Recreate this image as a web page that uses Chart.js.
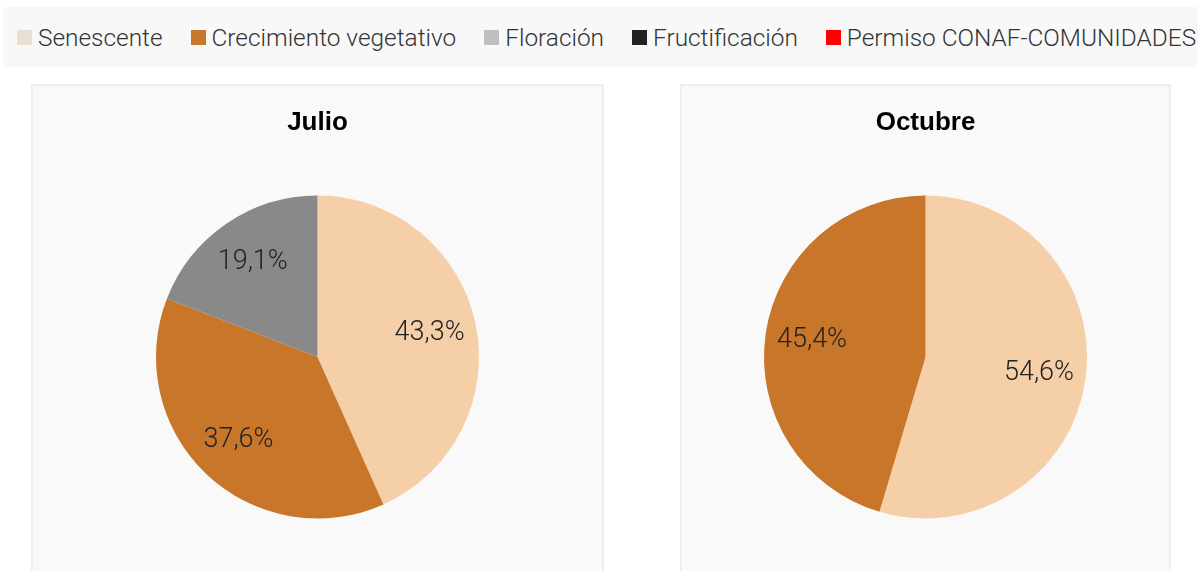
<!DOCTYPE html>
<html>
<head>
<meta charset="utf-8">
<script src="https://cdn.jsdelivr.net/npm/chart.js@4"></script>
<style>
  html, body { margin: 0; padding: 0; background: #ffffff; width: 1198px; height: 571px; overflow: hidden; }
  #legend { position: absolute; left: 3px; top: 7px; width: 1195px; height: 60px; background: #f8f8f8;
    display: flex; align-items: center; padding-left: 14px; box-sizing: border-box; gap: 28px;
    font-family: Roboto, "Liberation Sans", sans-serif; font-weight: 300; font-size: 24.4px; color: #333; white-space: nowrap; }
  .item { display: flex; align-items: center; }
  .sw { width: 15px; height: 15px; margin-right: 6px; }
  .panel { position: absolute; top: 84px; height: 500px; background: #f9f9f9; border: 2px solid #eeeeee; box-sizing: border-box; }
  canvas { position: absolute; }
</style>
</head>
<body>
<div id="legend"></div>
<div class="panel" style="left:31px; width:573px;"></div>
<div class="panel" style="left:680px; width:491px;"></div>
<canvas id="c1" width="573" height="487" style="left:31px; top:84px; width:573px; height:487px;"></canvas>
<canvas id="c2" width="491" height="487" style="left:680px; top:84px; width:491px; height:487px;"></canvas>
<script>
const categories = ["Senescente", "Crecimiento vegetativo", "Floración", "Fructificación", "Permiso CONAF-COMUNIDADES"];
const sliceColors = ["#F5CFA8", "#C87629", "#898989", "#222222", "#FF0000"];
const legendColors = ["#EADDD1", "#C87629", "#BFBFBF", "#222222", "#FF0000"];
const julioValues = [43.3, 37.6, 19.1, 0, 0];
const octubreValues = [54.6, 45.4, 0, 0, 0];
const chartTitles = ["Julio", "Octubre"];

// HTML legend built from the arrays
const legendEl = document.getElementById('legend');
categories.forEach((c, i) => {
  const it = document.createElement('div'); it.className = 'item';
  const sw = document.createElement('div'); sw.className = 'sw'; sw.style.background = legendColors[i];
  const tx = document.createElement('span'); tx.textContent = c;
  it.appendChild(sw); it.appendChild(tx); legendEl.appendChild(it);
});

const pctLabels = {
  id: 'pctLabels',
  afterDatasetsDraw(chart) {
    const ctx = chart.ctx;
    const meta = chart.getDatasetMeta(0);
    const data = chart.data.datasets[0].data;
    ctx.save();
    ctx.font = '300 27px Roboto, "Liberation Sans", sans-serif';
    ctx.fillStyle = '#222222';
    ctx.textAlign = 'center';
    ctx.textBaseline = 'middle';
    meta.data.forEach((arc, i) => {
      if (!data[i]) return;
      const p = arc.getProps(['x', 'y', 'startAngle', 'endAngle', 'outerRadius'], true);
      const mid = (p.startAngle + p.endAngle) / 2;
      const r = p.outerRadius * 0.71;
      const txt = data[i].toFixed(1).replace('.', ',') + '%';
      ctx.fillText(txt, p.x + Math.cos(mid) * r, p.y + Math.sin(mid) * r);
    });
    ctx.restore();
  }
};

function makePie(id, title, values) {
  return new Chart(document.getElementById(id), {
    type: 'pie',
    data: {
      labels: categories,
      datasets: [{ data: values, backgroundColor: sliceColors, borderWidth: 0 }]
    },
    options: {
      responsive: false,
      animation: false,
      layout: { padding: { top: 0, left: 0, right: 0, bottom: 52.5 } },
      plugins: {
        legend: { display: false },
        tooltip: { enabled: false },
        title: {
          display: true, text: title, color: '#000000',
          font: { family: '"Liberation Sans", Arial, sans-serif', size: 26, weight: 'bold', lineHeight: 1.2 },
          padding: { top: 23.4, bottom: 56.9 }
        }
      }
    },
    plugins: [pctLabels]
  });
}
makePie('c1', chartTitles[0], julioValues);
makePie('c2', chartTitles[1], octubreValues);
</script>
</body>
</html>
